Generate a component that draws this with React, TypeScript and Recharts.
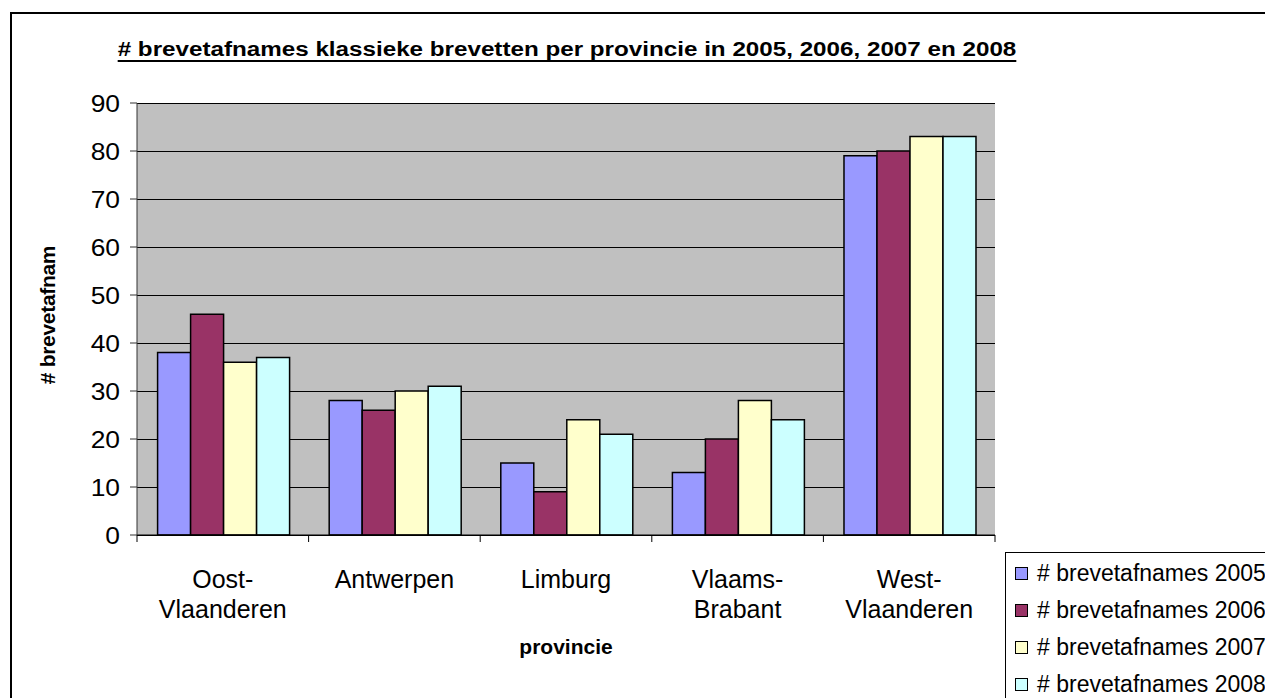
import { BarChart, Bar, XAxis, YAxis, CartesianGrid } from 'recharts';

const provinces = ['Oost-Vlaanderen', 'Antwerpen', 'Limburg', 'Vlaams-Brabant', 'West-Vlaanderen'];
const provinceLabels = [['Oost-', 'Vlaanderen'], ['Antwerpen'], ['Limburg'], ['Vlaams-', 'Brabant'], ['West-', 'Vlaanderen']];
const values2005 = [38, 28, 15, 13, 79];
const values2006 = [46, 26, 9, 20, 80];
const values2007 = [36, 30, 24, 28, 83];
const values2008 = [37, 31, 21, 24, 83];
const yTicks = [0, 10, 20, 30, 40, 50, 60, 70, 80, 90];

const series = [
  { key: 'y2005', name: '# brevetafnames 2005', color: '#9999FF' },
  { key: 'y2006', name: '# brevetafnames 2006', color: '#993366' },
  { key: 'y2007', name: '# brevetafnames 2007', color: '#FFFFCC' },
  { key: 'y2008', name: '# brevetafnames 2008', color: '#CCFFFF' },
];

const data = provinces.map((p, i) => ({
  name: p,
  y2005: values2005[i],
  y2006: values2006[i],
  y2007: values2007[i],
  y2008: values2008[i],
}));

const WIDTH = 1265;
const HEIGHT = 698;
const MARGIN = { top: 103, right: 270, bottom: 0, left: 0 };
const Y_AXIS_W = 137;
const X_AXIS_H = 163;
const PLOT_W = WIDTH - MARGIN.left - MARGIN.right - Y_AXIS_W;
const FONT = '"Liberation Sans", Arial, sans-serif';

// the original export is stretched sideways a bit, so the digits get a scaleX
function ValueTick(props: any) {
  const { x, y, payload } = props;
  return (
    <text
      x={x}
      y={y}
      dy="0.36em"
      textAnchor="end"
      fontSize={24}
      fill="#000"
      fontFamily={FONT}
      transform={`translate(${x} 0) scale(1.1 1) translate(${-x} 0)`}
    >
      {payload.value}
    </text>
  );
}

function CategoryTick(props: any) {
  const { x, y, payload, index } = props;
  const band = PLOT_W / provinces.length;
  const lines = provinceLabels[index] || [payload.value];
  return (
    <g>
      <line x1={x - band / 2} x2={x - band / 2} y1={y} y2={y + 7} stroke="#000" />
      {index === provinces.length - 1 && (
        <line x1={x + band / 2} x2={x + band / 2} y1={y} y2={y + 7} stroke="#000" />
      )}
      {lines.map((l: string, i: number) => (
        <text key={i} x={x} y={y + 53 + i * 30} textAnchor="middle" fontSize={25} fill="#000" fontFamily={FONT}>
          {l}
        </text>
      ))}
    </g>
  );
}

export default function App() {
  return (
    <div style={{ position: 'absolute', left: 0, top: 0, width: WIDTH, height: HEIGHT, overflow: 'hidden', background: '#fff', fontFamily: FONT }}>
      {/* outer frame, cut off at right and bottom */}
      <div style={{ position: 'absolute', left: 10, top: 12, width: WIDTH, height: HEIGHT, borderLeft: '2px solid #000', borderTop: '2px solid #000' }} />
      <div
        style={{
          position: 'absolute',
          left: 0,
          width: 1134,
          top: 37,
          lineHeight: '24px',
          textAlign: 'center',
          fontWeight: 'bold',
          fontSize: 20,
          textDecoration: 'underline',
          textUnderlineOffset: 4,
          color: '#000',
          whiteSpace: 'nowrap',
          transform: 'scaleX(1.21)',
          transformOrigin: '567px 0',
        }}
      >
        # brevetafnames klassieke brevetten per provincie in 2005, 2006, 2007 en 2008
      </div>
      <div style={{ position: 'absolute', left: 0, top: 0 }}>
        <BarChart width={WIDTH} height={HEIGHT} data={data} margin={MARGIN} barCategoryGap="12%" barGap={0}>
          <CartesianGrid vertical={false} stroke="#000" fill="#C0C0C0" shapeRendering="crispEdges" />
          <XAxis
            dataKey="name"
            height={X_AXIS_H}
            interval={0}
            tickSize={0}
            tickMargin={0}
            tickLine={false}
            axisLine={{ stroke: '#000' }}
            tick={<CategoryTick />}
            label={{
              content: (p: any) => {
                const vb = p.viewBox;
                return (
                  <text x={vb.x + vb.width / 2} y={vb.y + 119} textAnchor="middle" fontSize={21} fontWeight="bold" fontFamily={FONT}>
                    provincie
                  </text>
                );
              },
            }}
          />
          <XAxis xAxisId="top" orientation="top" dataKey="name" height={0} tick={false} tickLine={false} axisLine={{ stroke: '#808080' }} />
          <YAxis
            width={Y_AXIS_W}
            domain={[0, 90]}
            ticks={yTicks}
            interval={0}
            tickSize={7}
            tickMargin={10}
            axisLine={{ stroke: '#333' }}
            tickLine={{ stroke: '#333' }}
            tick={<ValueTick />}
            label={{
              content: (p: any) => {
                const vb = p.viewBox;
                const cx = 55;
                const cy = vb.y + vb.height / 2 - 4;
                return (
                  <text x={cx} y={cy} transform={`rotate(-90 ${cx} ${cy})`} textAnchor="middle" fontSize={21} fontWeight="bold" letterSpacing={-0.3} fontFamily={FONT}>
                    # brevetafnam
                  </text>
                );
              },
            }}
          />
          <YAxis yAxisId="right" orientation="right" width={0} domain={[0, 90]} tick={false} tickLine={false} axisLine={{ stroke: '#808080' }} />
          {series.map((s) => (
            <Bar key={s.key} dataKey={s.key} name={s.name} fill={s.color} stroke="#000" strokeWidth={1.5} isAnimationActive={false} />
          ))}
        </BarChart>
      </div>
      {/* legend, cut off by the frame edge */}
      <div style={{ position: 'absolute', left: 1005, top: 552, width: 320, height: 200, border: '1px solid #000', background: '#fff' }}>
        {series.map((s, i) => (
          <div key={s.key} style={{ position: 'absolute', left: 9, top: 5 + i * 37, height: 30, display: 'flex', alignItems: 'center', whiteSpace: 'nowrap' }}>
            <span style={{ display: 'inline-block', width: 11, height: 11, background: s.color, border: '1px solid #000', marginRight: 9 }} />
            <span style={{ fontSize: 23, color: '#000' }}>{s.name}</span>
          </div>
        ))}
      </div>
    </div>
  );
}
